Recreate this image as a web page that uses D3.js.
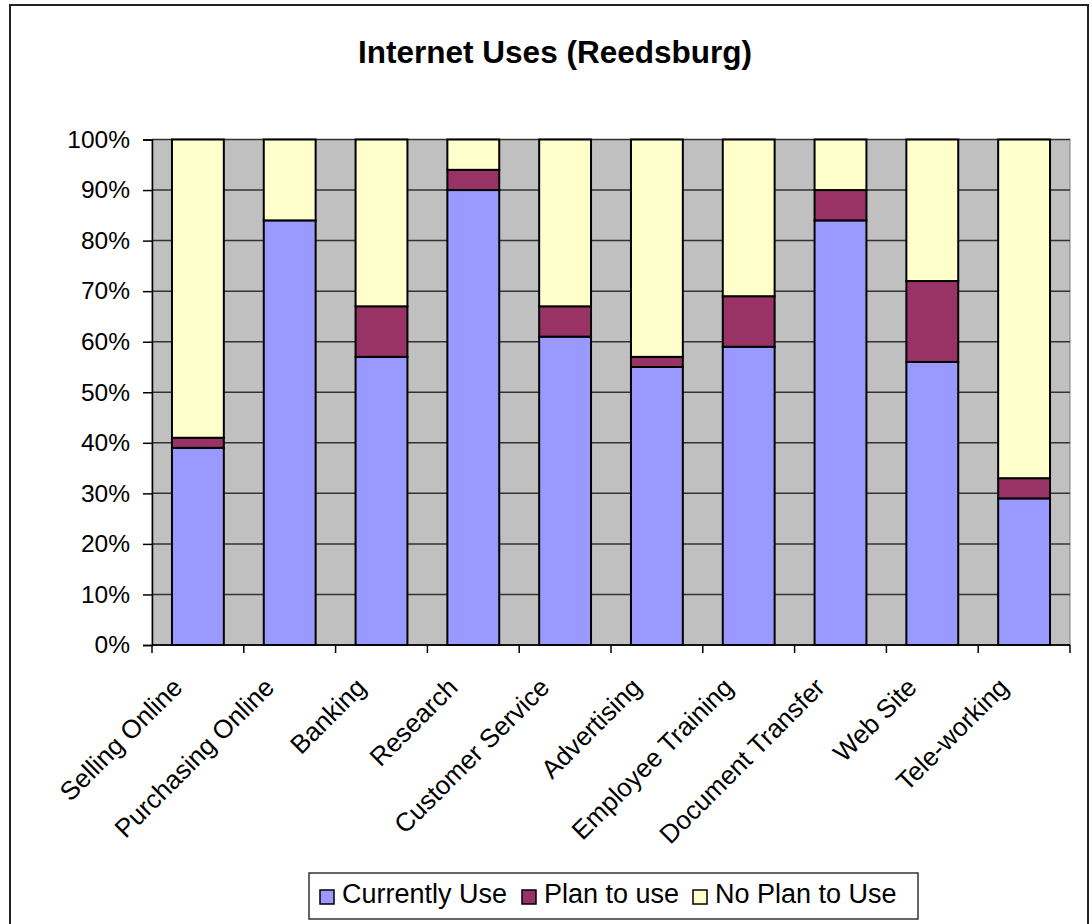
<!DOCTYPE html>
<html>
<head>
<meta charset="utf-8">
<script src="https://cdn.jsdelivr.net/npm/d3@7"></script>
<style>
  html, body { margin: 0; padding: 0; background: #fff; }
  svg { display: block; font-family: Arial, "Liberation Sans", sans-serif; }
</style>
</head>
<body>
<svg id="chart" width="1092" height="924"></svg>
<script>
const categories = ["Selling Online", "Purchasing Online", "Banking", "Research", "Customer Service",
  "Advertising", "Employee Training", "Document Transfer", "Web Site", "Tele-working"];
const currentlyUse = [39, 84, 57, 90, 61, 55, 59, 84, 56, 29];
const planToUse    = [2, 0, 10, 4, 6, 2, 10, 6, 16, 4];
const noPlanToUse  = [59, 16, 33, 6, 33, 43, 31, 10, 28, 67];
const seriesNames = ["Currently Use", "Plan to use", "No Plan to Use"];
const yTicks = [0, 0.1, 0.2, 0.3, 0.4, 0.5, 0.6, 0.7, 0.8, 0.9, 1.0];
const title = "Internet Uses (Reedsburg)";

const colors = ["#9999FF", "#993366", "#FFFFCC"];

const svg = d3.select("#chart");

// outer border
svg.append("rect").attr("x", 10).attr("y", 5).attr("width", 1078).attr("height", 930)
  .attr("fill", "#fff").attr("stroke", "#222").attr("stroke-width", 2);

const plot = { left: 152, right: 1070, top: 139.5, bottom: 645 };

const rows = categories.map((c, i) => ({
  cat: c,
  total: currentlyUse[i] + planToUse[i] + noPlanToUse[i],
  [seriesNames[0]]: currentlyUse[i],
  [seriesNames[1]]: planToUse[i],
  [seriesNames[2]]: noPlanToUse[i]
}));
rows.forEach(r => seriesNames.forEach(k => r[k] = r[k] / r.total));

const x = d3.scaleBand().domain(categories).range([plot.left, plot.right])
  .paddingInner(0.435).paddingOuter(0.2175);
const y = d3.scaleLinear().domain([0, 1]).range([plot.bottom, plot.top]);

// plot background
svg.append("rect").attr("x", plot.left).attr("y", plot.top)
  .attr("width", plot.right - plot.left).attr("height", plot.bottom - plot.top)
  .attr("fill", "#C0C0C0").attr("stroke", "#808080").attr("stroke-width", 1);

// gridlines
svg.append("g").selectAll("line").data(yTicks).join("line")
  .attr("x1", plot.left).attr("x2", plot.right)
  .attr("y1", d => y(d)).attr("y2", d => y(d))
  .attr("stroke", "#333").attr("stroke-width", 1.5);

// stacked bars
const stack = d3.stack().keys(seriesNames)(rows);
svg.append("g").selectAll("g").data(stack).join("g")
  .attr("fill", (d, i) => colors[i])
  .selectAll("rect").data(d => d.filter(s => s[1] - s[0] > 0)).join("rect")
  .attr("x", d => x(d.data.cat))
  .attr("width", x.bandwidth())
  .attr("y", d => y(d[1]))
  .attr("height", d => y(d[0]) - y(d[1]))
  .attr("stroke", "#000").attr("stroke-width", 2);

// y axis
const yAxis = d3.axisLeft(y).tickValues(yTicks).tickFormat(d3.format(".0%")).tickSize(9).tickPadding(13);
const gy = svg.append("g").attr("transform", `translate(${plot.left},0)`).call(yAxis);
gy.select(".domain").attr("stroke", "#000").attr("stroke-width", 1.5);
gy.selectAll(".tick line").attr("stroke", "#000").attr("stroke-width", 1.5);
gy.selectAll(".tick text").attr("font-size", 24.5).attr("fill", "#000")
  .attr("font-family", "Arial, 'Liberation Sans', sans-serif");

// x axis (ticks at band boundaries)
const bounds = categories.map(c => x(c) - x.step() * x.paddingInner() / 2);
bounds[0] = plot.left;
bounds.push(plot.right);
svg.append("line").attr("x1", plot.left).attr("x2", plot.right)
  .attr("y1", plot.bottom).attr("y2", plot.bottom).attr("stroke", "#000").attr("stroke-width", 1.5);
svg.append("g").selectAll("line").data(bounds).join("line")
  .attr("x1", d => d).attr("x2", d => d)
  .attr("y1", plot.bottom).attr("y2", plot.bottom + 8)
  .attr("stroke", "#000").attr("stroke-width", 1.5);

svg.append("g").selectAll("text").data(categories).join("text")
  .attr("transform", d => `translate(${x(d) + x.bandwidth() / 2 - 14},${plot.bottom + 44}) rotate(-45)`)
  .attr("text-anchor", "end")
  .attr("font-size", 26)
  .attr("fill", "#000")
  .text(d => d);

// title
svg.append("text").attr("x", 555).attr("y", 63).attr("text-anchor", "middle")
  .attr("font-size", 31.5).attr("font-weight", "bold").attr("fill", "#000").text(title);

// legend
const legend = svg.append("g");
legend.append("rect").attr("x", 309).attr("y", 873).attr("width", 609).attr("height", 46)
  .attr("fill", "#fff").attr("stroke", "#333").attr("stroke-width", 1.5);
const legendX = [320, 522, 693];
seriesNames.forEach((name, i) => {
  legend.append("rect").attr("x", legendX[i]).attr("y", 890).attr("width", 14).attr("height", 14)
    .attr("fill", colors[i]).attr("stroke", "#000").attr("stroke-width", 1.5);
  legend.append("text").attr("x", legendX[i] + 22).attr("y", 903)
    .attr("font-size", 27).attr("fill", "#000").text(name);
});
</script>
</body>
</html>
